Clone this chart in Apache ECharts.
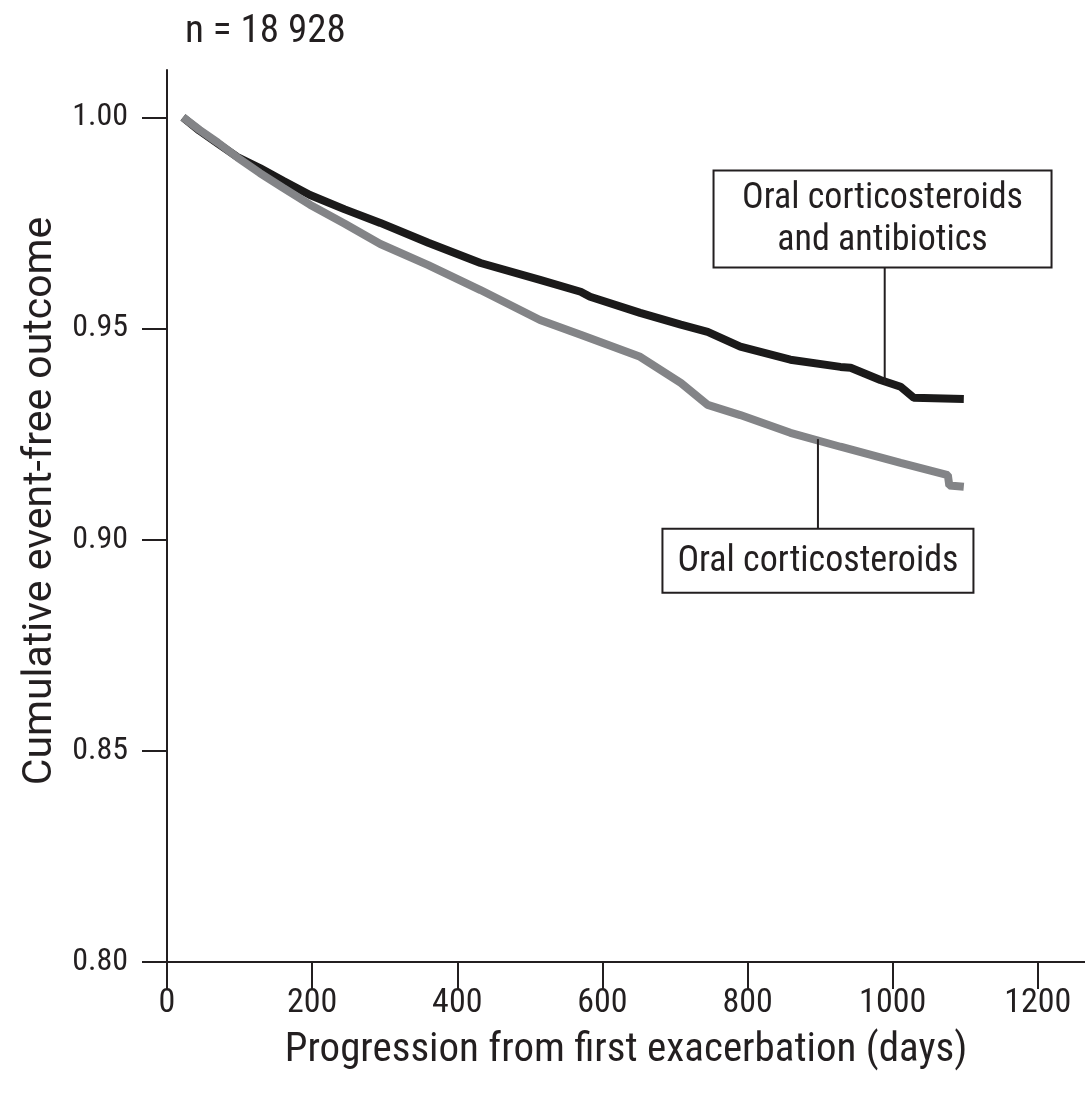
<!DOCTYPE html>
<html>
<head>
<meta charset="utf-8">
<script src="https://cdn.jsdelivr.net/npm/echarts@6/dist/echarts.min.js"></script>
<style>
html,body{margin:0;padding:0;background:#fff;}
#chart{width:1085px;height:1094px;}
</style>
</head>
<body>
<div id="chart"></div>
<script>
const FONT = "'Liberation Sans Narrow','Roboto Condensed','DejaVu Sans Condensed','Roboto',sans-serif";
const FONT_WIDE = "'Roboto','Liberation Sans',sans-serif";

const subtitle = "n = 18 928";
const xTitle = "Progression from first exacerbation (days)";
const yTitle = "Cumulative event-free outcome";
const xTicks = [0, 200, 400, 600, 800, 1000, 1200];
const yTicks = [0.80, 0.85, 0.90, 0.95, 1.00];

const ocsAbxName = ["Oral corticosteroids", "and antibiotics"];
const ocsAbxDays = [22, 45, 70, 97, 128, 160, 197, 245, 294, 360, 432, 514, 570, 583, 652, 708, 745, 790, 859, 928, 942, 983, 1011, 1029, 1098];
const ocsAbxVals = [1.000, 0.9968, 0.9938, 0.9906, 0.9880, 0.9850, 0.9816, 0.9782, 0.9750, 0.9703, 0.9655, 0.9615, 0.9587, 0.9575, 0.9537, 0.9509, 0.9492, 0.9457, 0.9426, 0.9409, 0.9407, 0.9378, 0.9362, 0.9336, 0.9333];

const ocsName = ["Oral corticosteroids"];
const ocsDays = [22, 45, 70, 97, 128, 160, 197, 245, 294, 360, 432, 514, 570, 652, 708, 745, 790, 859, 928, 1011, 1076, 1078, 1098];
const ocsVals = [1.000, 0.9970, 0.9940, 0.9905, 0.9868, 0.9833, 0.9793, 0.9748, 0.9700, 0.9650, 0.9591, 0.9520, 0.9485, 0.9433, 0.9371, 0.9319, 0.9295, 0.9253, 0.9220, 0.9182, 0.9153, 0.9128, 0.9125];

// annotation anchors in data space: [day, value] on the curve, and the label box center
const ocsAbxAnchor = [989, 0.9370];
const ocsAbxBox = [986, 0.9759];
const ocsAnchor = [897, 0.9238];
const ocsBox = [897, 0.8950];

const pairs = (xs, ys) => xs.map((x, i) => [x, ys[i]]);

const chart = echarts.init(document.getElementById('chart'), null, {renderer: 'canvas'});
const axisColor = '#231f20';
const textColor = '#231f20';

chart.setOption({
  backgroundColor: '#fff',
  animation: false,
  title: {
    text: subtitle, left: 180, top: 8,
    textStyle: {fontFamily: FONT, fontSize: 39, fontWeight: 'normal', color: textColor}
  },
  grid: {left: 167, right: 0, top: 70, bottom: 132, containLabel: false},
  xAxis: {
    type: 'value', min: 0, max: 1265, interval: 200,
    axisLine: {show: true, lineStyle: {color: axisColor, width: 2}},
    axisTick: {show: true, length: 27, lineStyle: {color: axisColor, width: 2}, customValues: xTicks},
    axisLabel: {customValues: xTicks, margin: 24, fontFamily: FONT, fontSize: 34, color: textColor,
      formatter: v => String(v)},
    splitLine: {show: false},
    name: xTitle, nameLocation: 'middle', nameGap: 68,
    nameTextStyle: {fontFamily: FONT, fontSize: 41, color: textColor}
  },
  yAxis: {
    type: 'value', min: 0.8, max: 1.0112, interval: 0.05,
    axisLine: {show: true, lineStyle: {color: axisColor, width: 2}},
    axisTick: {show: true, length: 25, lineStyle: {color: axisColor, width: 2}, customValues: yTicks},
    axisLabel: {customValues: yTicks, margin: 39, fontFamily: FONT, fontSize: 32, color: textColor,
      formatter: v => v.toFixed(2)},
    splitLine: {show: false},
    name: yTitle, nameLocation: 'middle', nameGap: 105,
    nameTextStyle: {fontFamily: FONT_WIDE, fontSize: 41, color: textColor, padding: [0, 0, 0, 30]}
  },
  series: [
    {
      name: ocsAbxName.join(' '), type: 'line', data: pairs(ocsAbxDays, ocsAbxVals),
      showSymbol: false, lineStyle: {color: '#1b1a1a', width: 8}, z: 2
    },
    {
      name: ocsName[0], type: 'line', data: pairs(ocsDays, ocsVals),
      showSymbol: false, lineStyle: {color: '#838487', width: 8}, z: 3
    }
  ]
});

function drawAnnotations() {
  const a1 = chart.convertToPixel({gridIndex: 0}, ocsAbxAnchor);
  const b1 = chart.convertToPixel({gridIndex: 0}, ocsAbxBox);
  const a2 = chart.convertToPixel({gridIndex: 0}, ocsAnchor);
  const b2 = chart.convertToPixel({gridIndex: 0}, ocsBox);
  const w1 = 338, h1 = 97, w2 = 311, h2 = 64;
  chart.setOption({
    graphic: [
      {type: 'line', shape: {x1: a1[0], y1: a1[1], x2: a1[0], y2: b1[1] + h1 / 2}, style: {stroke: axisColor, lineWidth: 2}, z: 10},
      {type: 'rect', shape: {x: b1[0] - w1 / 2, y: b1[1] - h1 / 2, width: w1, height: h1},
        style: {fill: '#fff', stroke: axisColor, lineWidth: 2}, z: 11},
      {type: 'text', x: b1[0], y: b1[1] + 1, z: 12,
        style: {text: ocsAbxName.join('\n'), font: "36px " + FONT, fill: textColor, align: 'center', verticalAlign: 'middle', lineHeight: 42}},
      {type: 'line', shape: {x1: a2[0], y1: a2[1], x2: a2[0], y2: b2[1] - h2 / 2}, style: {stroke: axisColor, lineWidth: 2}, z: 10},
      {type: 'rect', shape: {x: b2[0] - w2 / 2, y: b2[1] - h2 / 2, width: w2, height: h2},
        style: {fill: '#fff', stroke: axisColor, lineWidth: 2}, z: 11},
      {type: 'text', x: b2[0], y: b2[1] + 1, z: 12,
        style: {text: ocsName[0], font: "36px " + FONT, fill: textColor, align: 'center', verticalAlign: 'middle'}}
    ]
  });
}
drawAnnotations();
</script>
</body>
</html>
